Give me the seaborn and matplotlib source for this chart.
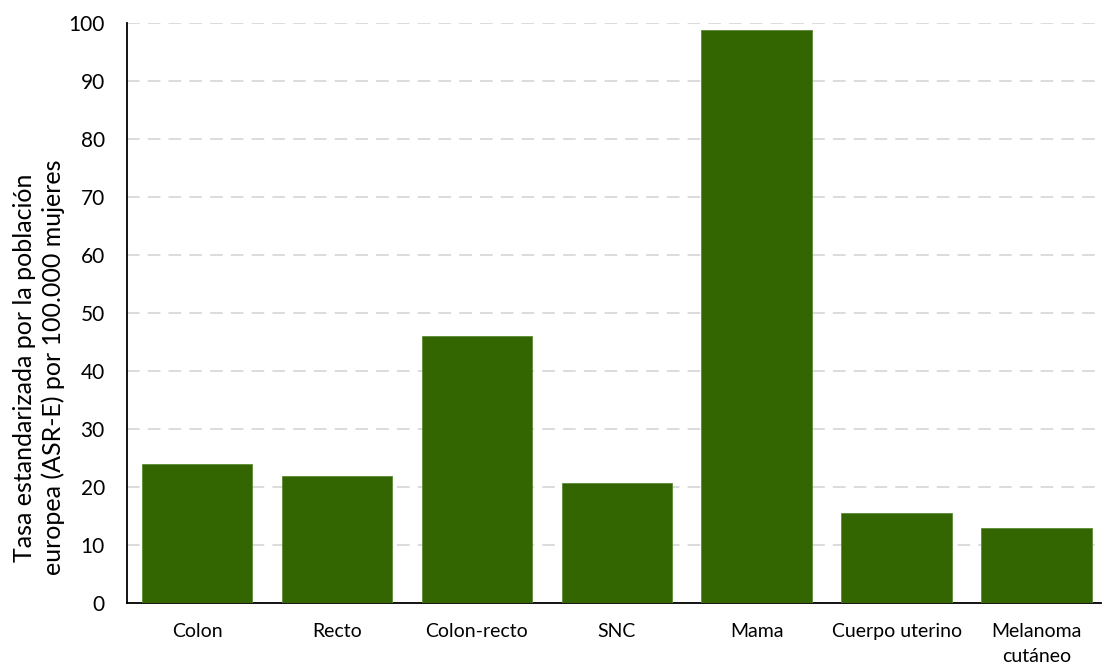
import matplotlib
matplotlib.use("Agg")
import matplotlib.pyplot as plt
import seaborn as sns
import pandas as pd

categories = ["Colon", "Recto", "Colon-recto", "SNC", "Mama", "Cuerpo uterino", "Melanoma\ncutáneo"]
values = [24.0, 21.9, 46.1, 20.7, 98.8, 15.5, 12.9]
yticks = [0, 10, 20, 30, 40, 50, 60, 70, 80, 90, 100]

df = pd.DataFrame({"cat": categories, "val": values})

sns.set_theme(style="white")
plt.rcParams["font.family"] = ["Lato", "DejaVu Sans"]

fig = plt.figure(figsize=(11.02, 6.66), dpi=100)
ax = fig.add_axes([127/1102, 1 - 603.3/666, (1101-127)/1102, (603.3-23)/666])

sns.barplot(data=df, x="cat", y="val", color="#336600", saturation=1, width=0.79, ax=ax, zorder=3)
for p in ax.patches:
    p.set_edgecolor("#5a8a33")
    p.set_linewidth(0.6)

ax.set_ylim(0, 100)
ax.set_xlim(-0.5, 6.46)
ax.set_yticks(yticks)
ax.yaxis.grid(True, color="#d9d9d9", linestyle=(0, (7, 4.5)), linewidth=1.3, zorder=0)
ax.set_axisbelow(True)

for s in ["top", "right"]:
    ax.spines[s].set_visible(False)
for s in ["left", "bottom"]:
    ax.spines[s].set_color("black")
    ax.spines[s].set_linewidth(1.3)

ax.tick_params(axis="y", length=0, pad=16, labelsize=15, colors="black")
ax.tick_params(axis="x", length=0, pad=14, labelsize=14, colors="black")
ax.set_xticks(range(len(categories)), labels=categories, linespacing=1.6)
ax.set_xlabel("")
ax.set_ylabel("Tasa estandarizada por la población\neuropea (ASR-E) por 100.000 mujeres",
              fontsize=18, color="black", va="center", linespacing=1.3)
ax.yaxis.set_label_coords(-0.0905, 0.406)

fig.savefig("out.png", dpi=100)
